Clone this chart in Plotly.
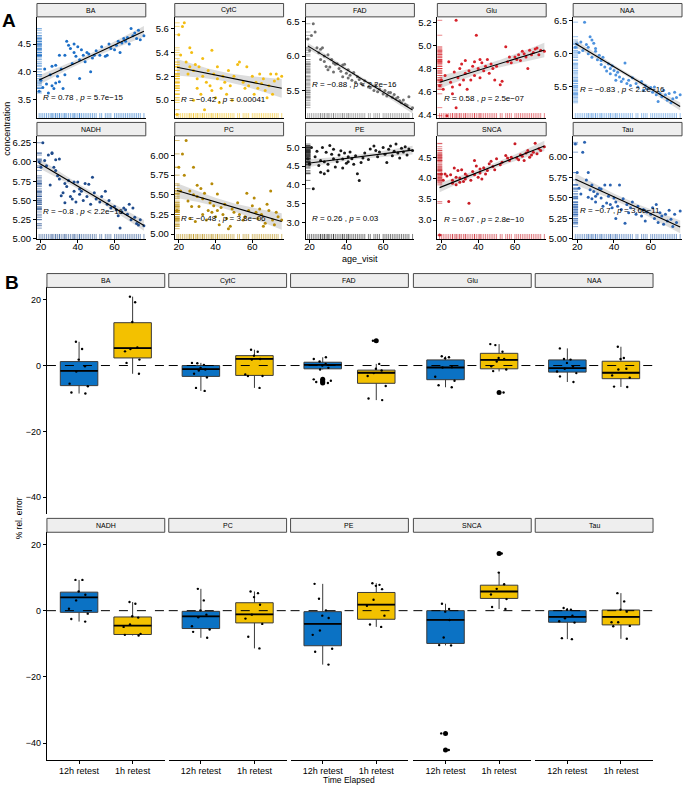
import numpy as np
import plotly.graph_objects as go

W, H = 685, 790
FONT = "Liberation Sans, Arial, sans-serif"

# ---------------- Panel A data ----------------
metabolites = ["BA", "CytC", "FAD", "Glu", "NAA", "NADH", "PC", "PE", "SNCA", "Tau"]

age_visit = [19, 20, 21, 22, 23, 24, 25, 26, 26, 27, 28, 28, 29, 30, 30, 31, 32, 33, 33, 34,
             35, 36, 37, 38, 38, 39, 40, 41, 41, 42, 43, 44, 45, 46, 47, 48, 49, 50, 52, 53,
             55, 56, 57, 58, 60, 61, 62, 63, 64, 65, 66, 67, 68, 69, 70, 71, 72, 73, 74, 76]

conc_BA = [3.65, 3.85, 3.72, 4.05, 3.78, 3.62, 3.95, 4.10, 3.75, 3.70, 3.80, 4.12, 3.92, 4.30, 3.82,
           4.05, 3.70, 4.30, 3.95, 4.55, 4.48, 4.42, 4.15, 4.50, 4.35, 4.28, 4.45, 4.22, 3.88, 4.40,
           4.30, 4.18, 4.35, 4.32, 4.00, 4.25, 4.30, 4.38, 4.30, 4.45, 4.28, 4.30, 4.50, 4.42, 4.40,
           4.48, 4.55, 4.35, 4.52, 4.60, 4.55, 4.62, 4.50, 4.78, 4.65, 4.70, 4.60, 4.75, 4.58, 4.65]
conc_CytC = [4.88, 5.55, 5.38, 5.62, 5.65, 5.32, 5.22, 5.44, 5.28, 5.40, 5.00, 5.25, 5.30, 5.18, 5.10,
             5.28, 5.05, 5.20, 5.35, 4.92, 5.15, 5.25, 5.12, 5.42, 5.08, 5.22, 5.02, 5.18, 5.28, 4.98,
             5.10, 5.20, 5.15, 5.05, 5.25, 5.12, 5.00, 5.20, 5.30, 5.32, 5.15, 5.10, 5.28, 5.12, 5.20,
             5.05, 5.15, 5.10, 5.22, 5.14, 5.18, 5.08, 5.02, 5.12, 5.22, 5.05, 5.16, 5.22, 5.18, 5.20]
conc_FAD = [6.25, 6.08, 6.30, 6.47, 6.35, 6.12, 6.05, 6.10, 5.95, 6.12, 6.00, 5.92, 5.85, 6.02, 5.80,
            5.84, 5.95, 5.77, 5.90, 5.88, 5.89, 5.82, 5.78, 5.87, 5.70, 5.88, 5.75, 5.68, 5.80, 5.72,
            5.65, 5.76, 5.62, 5.70, 5.66, 5.60, 5.58, 5.64, 5.55, 5.54, 5.50, 5.58, 5.48, 5.52, 5.45,
            5.50, 5.42, 5.47, 5.47, 5.40, 5.44, 5.38, 5.40, 5.35, 5.32, 5.36, 5.30, 5.28, 5.41, 5.25]
conc_Glu = [4.65, 4.70, 4.62, 4.74, 4.39, 4.86, 4.68, 4.64, 4.58, 4.77, 5.22, 4.46, 4.72, 4.66, 4.80,
            4.84, 4.70, 4.76, 4.87, 4.62, 4.78, 4.70, 4.82, 4.86, 4.74, 5.09, 4.80, 4.72, 4.88, 4.85,
            4.78, 4.82, 4.88, 4.76, 4.84, 4.80, 4.70, 4.82, 4.66, 4.69, 4.99, 4.86, 4.90, 4.85, 4.90,
            4.88, 4.92, 4.87, 4.95, 4.93, 4.90, 4.80, 4.96, 4.92, 4.94, 4.97, 4.98, 4.92, 4.96, 4.95]
conc_NAA = [6.10, 6.15, 6.02, 6.18, 6.05, 6.48, 6.14, 6.00, 6.10, 6.26, 6.21, 5.95, 6.16, 6.04, 6.08,
            5.91, 5.98, 5.84, 5.90, 5.95, 5.80, 5.74, 5.85, 5.78, 5.70, 5.82, 5.75, 5.68, 5.60, 5.72,
            5.65, 5.58, 5.62, 5.86, 5.55, 5.60, 5.52, 5.64, 5.55, 5.50, 5.58, 5.45, 5.52, 5.47, 5.49,
            5.42, 5.50, 5.38, 5.28, 5.40, 5.35, 5.45, 5.38, 5.30, 5.40, 5.26, 5.32, 5.42, 5.34, 5.38]
conc_NADH = [6.00, 5.93, 6.25, 6.02, 5.95, 6.09, 5.70, 6.11, 6.12, 5.93, 6.03, 5.89, 5.82, 6.04, 5.78,
             5.56, 5.60, 5.47, 5.72, 5.68, 5.76, 5.55, 5.52, 5.74, 5.62, 5.48, 5.74, 5.58, 5.65, 5.62,
             5.50, 5.72, 5.55, 5.71, 5.45, 5.80, 5.60, 5.52, 5.48, 5.55, 5.62, 5.45, 5.50, 5.40, 5.42,
             5.38, 5.30, 5.14, 5.35, 5.40, 5.38, 5.32, 5.45, 5.25, 5.40, 5.28, 5.20, 5.18, 5.25, 5.17]
conc_PC = [5.30, 5.85, 5.55, 6.02, 5.75, 6.19, 5.42, 5.55, 5.20, 5.35, 5.85, 5.50, 5.16, 5.48, 5.62,
           5.35, 5.58, 5.45, 5.25, 5.52, 5.18, 5.30, 5.40, 5.28, 5.64, 5.36, 5.22, 5.30, 5.51, 5.12,
           5.34, 5.25, 5.38, 5.20, 5.07, 5.10, 5.32, 5.28, 5.40, 5.25, 5.18, 5.22, 5.52, 5.30, 5.36,
           5.46, 5.28, 5.20, 5.32, 5.25, 5.10, 5.14, 5.38, 5.30, 5.55, 5.18, 5.12, 5.28, 5.22, 5.18]
conc_PE = [4.70, 4.55, 5.00, 3.90, 4.75, 4.90, 4.52, 4.34, 4.65, 5.00, 4.30, 4.62, 4.87, 4.38, 4.55,
           5.05, 4.82, 4.70, 4.95, 4.48, 4.62, 4.80, 4.91, 4.69, 4.45, 4.85, 4.58, 4.75, 4.62, 4.88,
           4.70, 4.55, 4.78, 4.30, 4.12, 4.60, 4.72, 4.85, 4.68, 4.96, 5.04, 4.92, 4.75, 4.88, 5.00,
           4.82, 4.60, 4.95, 5.04, 4.78, 4.90, 5.09, 4.85, 4.72, 4.98, 4.88, 5.02, 4.80, 4.96, 4.92]
conc_SNCA = [2.64, 4.10, 3.95, 4.10, 4.05, 3.44, 4.08, 3.88, 3.95, 4.24, 4.02, 3.84, 4.18, 4.00, 3.90,
             4.20, 3.92, 4.10, 3.98, 4.05, 3.40, 3.95, 4.16, 4.42, 4.08, 4.29, 4.02, 4.22, 4.12, 3.98,
             4.25, 4.10, 4.18, 4.34, 4.40, 4.28, 4.20, 4.46, 4.32, 4.38, 4.54, 4.48, 4.42, 4.50, 4.82,
             4.48, 4.44, 4.56, 4.52, 4.42, 4.60, 4.66, 4.50, 4.55, 4.62, 4.83, 4.58, 4.70, 4.66, 4.75]
conc_Tau = [6.16, 5.81, 5.62, 5.55, 6.06, 6.18, 5.72, 5.81, 5.51, 5.60, 5.66, 5.49, 5.58, 5.52, 5.45,
            5.55, 5.62, 5.50, 5.61, 5.40, 5.66, 5.44, 5.52, 5.42, 5.66, 5.38, 5.50, 5.25, 5.45, 5.40,
            5.66, 5.36, 5.49, 5.19, 5.42, 5.32, 5.38, 5.45, 5.30, 5.40, 5.28, 5.36, 5.22, 5.33, 5.30,
            5.38, 5.25, 5.42, 5.20, 5.32, 5.28, 5.18, 5.30, 5.22, 5.35, 5.24, 5.15, 5.30, 5.20, 5.34]

conc_all = [conc_BA, conc_CytC, conc_FAD, conc_Glu, conc_NAA,
            conc_NADH, conc_PC, conc_PE, conc_SNCA, conc_Tau]

cor_R = ["0.78", "\u22120.42", "\u22120.88", "0.58", "\u22120.83",
         "\u22120.8", "\u22120.48", "0.26", "0.67", "\u22120.7"]
cor_p = ["= 5.7e\u221215", "= 0.00041", "< 2.2e\u221216", "= 2.5e\u221207", "< 2.2e\u221216",
         "< 2.2e\u221216", "= 3.8e\u221206", "= 0.03", "= 2.8e\u221210", "= 3.6e\u221211"]

y_ticks_A = [[3.5, 4.0, 4.5], [5.0, 5.2, 5.4, 5.6], [5.5, 6.0, 6.5], [4.4, 4.6, 4.8, 5.0, 5.2],
             [5.5, 6.0, 6.5], [5.0, 5.25, 5.5, 5.75, 6.0, 6.25], [5.0, 5.25, 5.5, 5.75, 6.0],
             [3.0, 3.5, 4.0, 4.5, 5.0], [3.0, 3.5, 4.0, 4.5], [5.0, 5.25, 5.5, 5.75, 6.0]]
x_ticks_A = [20, 40, 60]

# ---------------- Panel B data ----------------
time_groups = ["12h retest", "1h retest"]

q1_12h = [-6.1, -3.3, -1.0, -4.3, -2.0, -0.5, -5.4, -10.6, -9.9, -3.5]
med_12h = [-1.6, -1.1, 0.2, -0.6, -0.8, 4.0, -1.7, -4.0, -2.8, -1.9]
q3_12h = [1.2, 0.0, 1.0, 1.7, 1.7, 5.6, -0.2, -0.3, 0.0, 0.0]
lo_12h = [-8.5, -7.7, -1.2, -6.6, -5.0, -3.3, -8.2, -16.3, -10.5, -8.6]
hi_12h = [7.2, 0.8, 2.5, 2.8, 5.2, 9.3, 6.6, 8.1, 2.1, 0.8]

q1_1h = [2.3, -3.0, -5.4, -1.0, -4.0, -7.2, -3.7, -2.6, 3.7, -4.3]
med_1h = [5.3, 2.0, -2.2, 1.7, -2.2, -4.5, -1.1, 1.8, 5.8, -1.9]
q3_1h = [13.0, 3.0, -1.4, 3.7, 1.3, -1.9, 2.4, 5.5, 7.7, 0.2]
lo_1h = [-2.5, -6.8, -10.5, -1.8, -6.5, -7.5, -11.4, -4.9, 0.5, -8.5]
hi_1h = [20.9, 4.8, 0.5, 6.5, 5.7, 2.6, 5.8, 8.3, 11.5, 5.3]

pts_12h = [
    [7.2, 5.0, 1.8, -0.2, -1.8, -5.5, -6.3, -8.2, -8.5],
    [0.8, 0.7, 0.2, -0.7, -1.2, -1.5, -2.5, -3.6, -6.8, -7.7],
    [2.5, 2.0, 1.2, 0.5, 0.0, -0.7, -1.2, -4.2, -4.6, -5.0, -5.3],
    [2.8, 2.5, 2.2, -0.5, -0.6, -3.4, -4.6, -6.0, -6.6],
    [5.2, 2.0, 1.8, 0.8, -0.3, -1.0, -1.8, -2.3, -3.3, -5.0],
    [9.3, 9.3, 5.8, 4.8, 3.1, 0.6, -0.9, -2.5, -3.3],
    [6.6, 3.1, 0.1, -1.2, -2.0, -4.7, -5.7, -6.4, -8.2],
    [8.1, 3.6, 0.1, -1.5, -2.2, -6.0, -7.3, -11.5, -12.4, -16.3],
    [2.1, 0.5, -0.3, -2.8, -8.1, -10.4, -10.5, -37.1, -42.1],
    [0.8, 0.3, 0.3, -1.5, -2.3, -3.2, -3.6, -8.3, -8.6],
]
pts_1h = [
    [20.9, 19.2, 13.2, 5.5, 5.0, 4.3, 1.8, 0.8, -2.5],
    [4.8, 4.2, 3.0, 2.0, 1.8, -2.7, -3.2, -3.2, -6.8],
    [7.5, 0.5, -1.0, -1.5, -2.3, -3.2, -6.2, -10.0, -10.5],
    [6.5, 6.2, 4.2, 2.3, 2.0, 1.2, -0.2, -1.2, -1.7, -8.2],
    [5.7, 2.3, 2.0, -1.0, -1.2, -3.0, -3.7, -6.5, -6.4],
    [2.6, 2.1, -1.7, -2.1, -4.2, -4.9, -7.0, -7.5, -7.3],
    [5.8, 5.3, 4.1, 1.8, -1.2, -2.4, -4.0, -7.9, -11.4],
    [8.3, 7.8, 7.5, 6.5, 3.3, 1.5, -1.5, -4.2, -4.9],
    [17.3, 11.5, 8.0, 6.6, 4.9, 3.5, 1.1, 0.5],
    [5.3, 2.8, 0.3, -0.3, -3.5, -3.5, -4.6, -4.7, -8.5],
]
out_12h = [[], [], [-4.2, -4.6, -5.0, -5.3], [], [], [], [], [], [-37.1, -42.1], []]
out_1h = [[], [], [7.5], [-8.2], [], [], [], [], [17.3], []]
y_ticks_B = [-40, -20, 0, 20]

# ---------------- Styling / layout constants ----------------
scatter_colors = ["#1d6fc7", "#f3bd14", "#707070", "#d7222a", "#4d92de",
                  "#1f4b8c", "#b68a08", "#1a1a1a", "#c91c25", "#2b63b1"]
box_colors = ["#0b72c4", "#f3c100"]

A_left = [36, 174, 305, 437, 573]
A_w = 109
A_rows = [(15, 117), (135, 239)]
A_strips = [(1.5, 15), (121.5, 135)]
A_xrange = [17.8, 77.0]
A_yranges = [[3.17, 4.99], [4.85, 5.70], [5.10, 6.57], [4.37, 5.25], [5.03, 6.56],
             [5.00, 6.34], [4.94, 6.25], [2.56, 5.31], [2.55, 5.01], [5.00, 6.26]]
A_label_frac = [0.2, 0.18, 0.33, 0.195, 0.28, 0.27, 0.195, 0.193, 0.19, 0.278]

B_left = [46, 168, 290, 413, 535]
B_w = 118
B_rows = [(288, 517), (535, 765)]
B_strips = [(274, 288), (521, 535)]
B_yrange = [-45.2, 23.7]


def px(x):
    return x / W


def py(y):
    return 1 - y / H


fig = go.Figure()
layout = dict(
    width=W, height=H, margin=dict(l=0, r=0, t=0, b=0),
    paper_bgcolor="white", plot_bgcolor="white", showlegend=False,
    font=dict(family=FONT, color="black"), boxmode="overlay",
)
shapes = []
annotations = []


def axname(n):
    return ("xaxis" if n == 1 else f"xaxis{n}"), ("yaxis" if n == 1 else f"yaxis{n}")


def ref(n):
    return ("x" if n == 1 else f"x{n}"), ("y" if n == 1 else f"y{n}")


def strip(x0, x1, y0, y1, label):
    shapes.append(dict(type="rect", xref="paper", yref="paper",
                       x0=px(x0), x1=px(x1), y0=py(y1), y1=py(y0),
                       fillcolor="#eeeeee", line=dict(color="#4a4a4a", width=1), layer="above"))
    annotations.append(dict(xref="paper", yref="paper", x=px((x0 + x1) / 2), y=py((y0 + y1) / 2),
                            text=label, showarrow=False, font=dict(size=7, family=FONT),
                            xanchor="center", yanchor="middle"))


# ---------------- Panel A ----------------
age = np.array(age_visit, dtype=float)
for i, m in enumerate(metabolites):
    n = i + 1
    r, c = divmod(i, 5)
    xa, ya = axname(n)
    xr, yr = ref(n)
    y = np.array(conc_all[i], dtype=float)
    col = scatter_colors[i]
    yrng = A_yranges[i]

    # linear fit + 95% CI
    b1, b0 = np.polyfit(age, y, 1)
    xs = np.linspace(age.min(), age.max(), 80)
    yhat = b0 + b1 * xs
    nobs = len(age)
    resid = y - (b0 + b1 * age)
    s = np.sqrt(np.sum(resid ** 2) / (nobs - 2))
    sxx = np.sum((age - age.mean()) ** 2)
    se = s * np.sqrt(1 / nobs + (xs - age.mean()) ** 2 / sxx)
    tcrit = 2.0017
    band_x = np.concatenate([xs, xs[::-1]])
    band_y = np.concatenate([yhat + tcrit * se, (yhat - tcrit * se)[::-1]])

    fig.add_trace(go.Scatter(x=band_x, y=band_y, fill="toself", fillcolor="rgba(150,150,150,0.32)",
                             line=dict(width=0), mode="lines", hoverinfo="skip", xaxis=xr, yaxis=yr))
    # rugs
    fig.add_trace(go.Scatter(x=age, y=[yrng[0]] * nobs, mode="markers",
                             marker=dict(symbol="line-ns-open", size=7, opacity=0.55, color=col,
                                         line=dict(color=col, width=1)),
                             hoverinfo="skip", xaxis=xr, yaxis=yr))
    fig.add_trace(go.Scatter(x=[A_xrange[0]] * nobs, y=y, mode="markers",
                             marker=dict(symbol="line-ew-open", size=7, opacity=0.55, color=col,
                                         line=dict(color=col, width=1)),
                             hoverinfo="skip", xaxis=xr, yaxis=yr))
    # points
    fig.add_trace(go.Scatter(x=age, y=y, mode="markers",
                             marker=dict(color=col, size=3), xaxis=xr, yaxis=yr))
    # regression line
    fig.add_trace(go.Scatter(x=xs, y=yhat, mode="lines", line=dict(color="black", width=1.1),
                             xaxis=xr, yaxis=yr))

    bottom_row = (r == 1)
    layout[xa] = dict(domain=[px(A_left[c]), px(A_left[c] + A_w)], range=A_xrange,
                      anchor=yr, showline=True, linecolor="black", linewidth=1,
                      showgrid=False, zeroline=False,
                      ticks="outside" if bottom_row else "", ticklen=3, tickcolor="black",
                      tickvals=x_ticks_A, showticklabels=bottom_row, ticklabelstandoff=-4,
                      tickfont=dict(size=9.5, family=FONT, color="black"))
    tf = ".2f" if (i in (5, 6, 9)) else ".1f"
    layout[ya] = dict(domain=[py(A_rows[r][1]), py(A_rows[r][0])], range=yrng,
                      anchor=xr, showline=True, linecolor="black", linewidth=1,
                      showgrid=False, zeroline=False, ticks="outside", ticklen=3,
                      tickcolor="black", tickvals=y_ticks_A[i], tickformat=tf,
                      tickfont=dict(size=9.5, family=FONT, color="black"))
    strip(A_left[c], A_left[c] + A_w, A_strips[r][0], A_strips[r][1], m)
    annotations.append(dict(xref=f"{xr} domain", yref=f"{yr} domain", x=0.04, y=A_label_frac[i],
                            text=f"<i>R</i> = {cor_R[i]} , <i>p</i> {cor_p[i]}",
                            showarrow=False, xanchor="left", yanchor="middle",
                            font=dict(size=8, family=FONT, color="black")))

# ---------------- Panel B ----------------
stats = [(q1_12h, med_12h, q3_12h, lo_12h, hi_12h, pts_12h, out_12h),
         (q1_1h, med_1h, q3_1h, lo_1h, hi_1h, pts_1h, out_1h)]
for i, m in enumerate(metabolites):
    n = 11 + i
    r, c = divmod(i, 5)
    xa, ya = axname(n)
    xr, yr = ref(n)
    for g, grp in enumerate(time_groups):
        q1, med, q3, lo, hi, pts, outs = stats[g]
        fig.add_trace(go.Box(x=[grp], q1=[q1[i]], median=[med[i]], q3=[q3[i]],
                             lowerfence=[lo[i]], upperfence=[hi[i]],
                             fillcolor=box_colors[g], line=dict(color="#3a3a3a", width=1),
                             whiskerwidth=0, width=0.7, boxpoints=False,
                             xaxis=xr, yaxis=yr))
        shapes.append(dict(type="line", xref=xr, yref=yr, x0=g - 0.35, x1=g + 0.35,
                           y0=med[i], y1=med[i], line=dict(color="black", width=1.8),
                           layer="above"))
        if outs[i]:
            fig.add_trace(go.Scatter(x=[grp] * len(outs[i]), y=outs[i], mode="markers",
                                     marker=dict(color="black", size=5), xaxis=xr, yaxis=yr))
        fig.add_trace(go.Box(x=[grp] * len(pts[i]), y=pts[i], boxpoints="all", jitter=0.65,
                             pointpos=0, fillcolor="rgba(0,0,0,0)",
                             line=dict(color="rgba(0,0,0,0)", width=0), width=0.7,
                             marker=dict(color="black", size=2.4), whiskerwidth=0,
                             xaxis=xr, yaxis=yr))
    shapes.append(dict(type="line", xref=f"{xr} domain", yref=yr, x0=0, x1=1, y0=0, y1=0,
                       line=dict(color="black", width=1, dash="dash"), layer="above"))

    bottom_row = (r == 1)
    layout[xa] = dict(domain=[px(B_left[c]), px(B_left[c] + B_w)], type="category",
                      categoryorder="array", categoryarray=time_groups, range=[-0.6, 1.6],
                      anchor=yr, showline=bottom_row, linecolor="black", linewidth=1,
                      showgrid=False, zeroline=False,
                      ticks="outside" if bottom_row else "", ticklen=3, tickcolor="black",
                      showticklabels=bottom_row, ticklabelstandoff=-1,
                      tickfont=dict(size=9, family=FONT, color="black"))
    left = (c == 0)
    layout[ya] = dict(domain=[py(B_rows[r][1]), py(B_rows[r][0])], range=B_yrange,
                      anchor=xr, showline=left, linecolor="black", linewidth=1,
                      showgrid=False, zeroline=False, ticks="outside" if left else "",
                      ticklen=3, tickcolor="black", tickvals=y_ticks_B, showticklabels=left,
                      tickfont=dict(size=9, family=FONT, color="black"))
    strip(B_left[c], B_left[c] + B_w, B_strips[r][0], B_strips[r][1], m)

# ---------------- Titles / labels ----------------
annotations += [
    dict(xref="paper", yref="paper", x=px(8), y=py(19), text="<b>A</b>", showarrow=False,
         font=dict(size=19, family=FONT), xanchor="center", yanchor="middle"),
    dict(xref="paper", yref="paper", x=px(11), y=py(283), text="<b>B</b>", showarrow=False,
         font=dict(size=19, family=FONT), xanchor="center", yanchor="middle"),
    dict(xref="paper", yref="paper", x=px(6), y=py(128), text="concentration", textangle=-90,
         showarrow=False, font=dict(size=9, family=FONT), xanchor="center", yanchor="middle"),
    dict(xref="paper", yref="paper", x=px(360), y=py(259), text="age_visit", showarrow=False,
         font=dict(size=9, family=FONT), xanchor="center", yanchor="middle"),
    dict(xref="paper", yref="paper", x=px(18), y=py(521), text="% rel. error", textangle=-90,
         showarrow=False, font=dict(size=8.5, family=FONT), xanchor="center", yanchor="middle"),
    dict(xref="paper", yref="paper", x=px(349), y=py(785), text="Time Elapsed", showarrow=False,
         font=dict(size=8.5, family=FONT), xanchor="center", yanchor="middle"),
]

layout["shapes"] = shapes
layout["annotations"] = annotations
fig.update_layout(**layout)
fig.write_html("out.html", config={"displayModeBar": False},
               post_script="document.body.style.margin='0px';document.body.style.overflow='hidden';")
